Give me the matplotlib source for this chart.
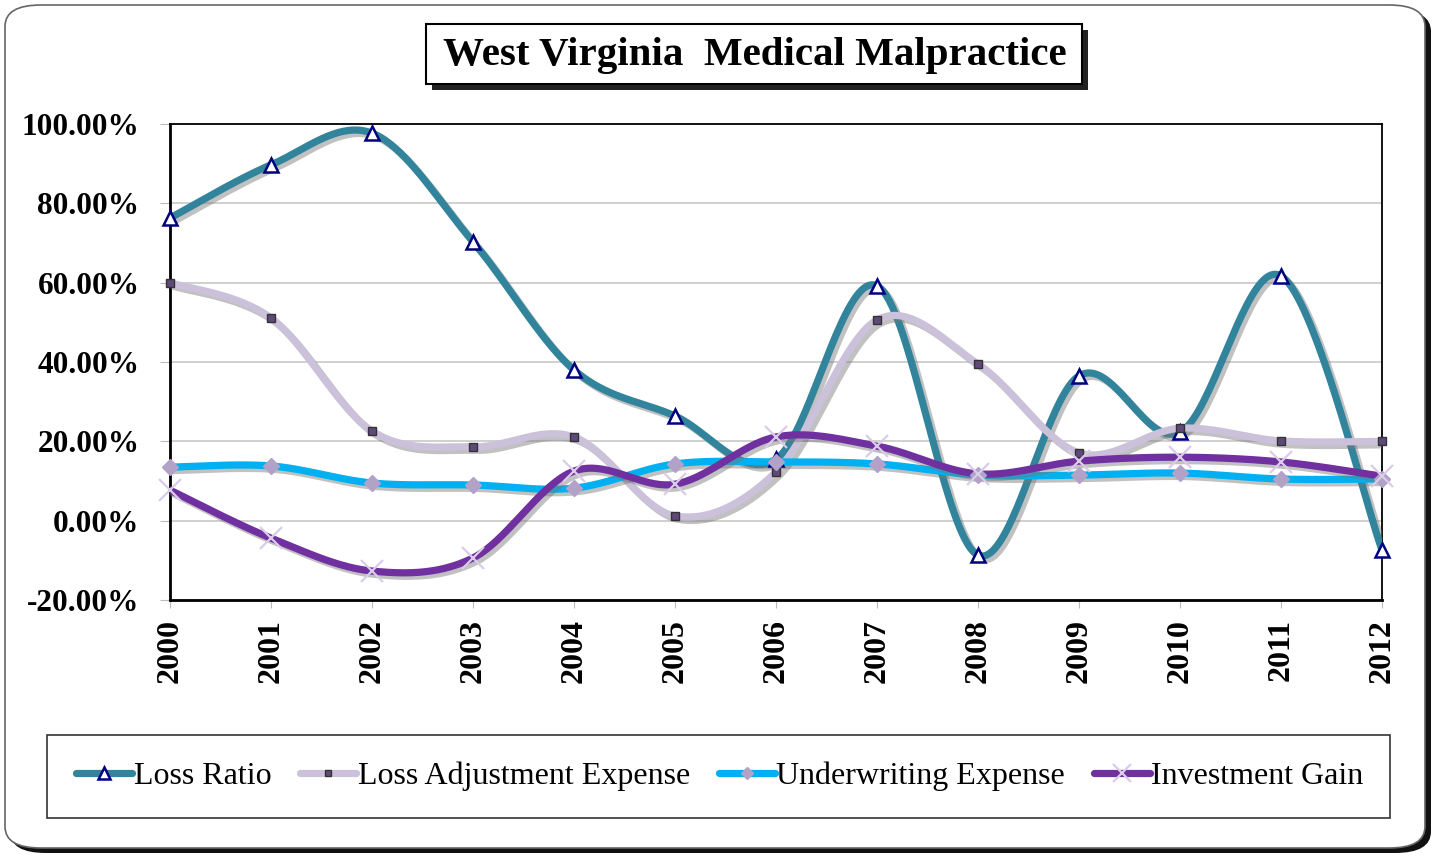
import numpy as np
import matplotlib
matplotlib.use("Agg")
import matplotlib.pyplot as plt
from matplotlib.patches import FancyBboxPatch, Rectangle
import matplotlib.patheffects as pe
from matplotlib.lines import Line2D
from matplotlib.ticker import FuncFormatter

years = [2000, 2001, 2002, 2003, 2004, 2005, 2006, 2007, 2008, 2009, 2010, 2011, 2012]
loss_ratio = [76.3, 89.7, 97.7, 70.3, 38.0, 26.4, 15.5, 59.2, -8.7, 36.5, 22.3, 61.7, -7.4]
loss_adj_exp = [60.0, 51.1, 22.6, 18.6, 21.1, 1.2, 12.3, 50.6, 39.5, 17.1, 23.3, 20.1, 20.0]
underwriting_exp = [13.5, 13.8, 9.5, 9.0, 8.2, 14.3, 14.8, 14.3, 11.5, 11.5, 12.0, 10.5, 10.5]
investment_gain = [7.7, -4.4, -12.7, -9.4, 12.5, 9.2, 21.1, 18.8, 11.8, 15.0, 16.0, 14.8, 11.2]
series_names = ["Loss Ratio", "Loss Adjustment Expense", "Underwriting Expense", "Investment Gain"]
y_ticks = [-20, 0, 20, 40, 60, 80, 100]

plt.rcParams['font.family'] = ['Liberation Serif', 'DejaVu Serif']

W, H = 1435, 856
fig = plt.figure(figsize=(W / 100, H / 100), dpi=100)
fig.patch.set_facecolor('white')

def fx(x): return x / W
def fy(y): return 1 - y / H

# outer rounded frame with shadow
shadow = FancyBboxPatch((fx(10), fy(853)), fx(1431) - fx(10), fy(10) - fy(853),
                        boxstyle="round,pad=0,rounding_size=0.025", transform=fig.transFigure,
                        facecolor='#111111', edgecolor='none', zorder=0)
fig.patches.append(shadow)
frame = FancyBboxPatch((fx(5), fy(848)), fx(1425) - fx(5), fy(5) - fy(848),
                       boxstyle="round,pad=0,rounding_size=0.025", transform=fig.transFigure,
                       facecolor='white', edgecolor='#666666', linewidth=1.2, zorder=1)
fig.patches.append(frame)

# axes
ax = fig.add_axes([fx(170), fy(600), fx(1382) - fx(170), fy(124) - fy(600)])
ax.set_zorder(3)
ax.set_facecolor('white')

def smooth(xs, ys, n=40):
    xs = np.asarray(xs, float); ys = np.asarray(ys, float)
    P = np.column_stack([xs, ys])
    out = []
    for i in range(len(P) - 1):
        p0 = P[i - 1] if i > 0 else P[i]
        p1 = P[i]; p2 = P[i + 1]
        p3 = P[i + 2] if i + 2 < len(P) else P[i + 1]
        c1 = p1 + (p2 - p0) / 6
        c2 = p2 - (p3 - p1) / 6
        t = np.linspace(0, 1, n)[:, None]
        seg = (1 - t) ** 3 * p1 + 3 * (1 - t) ** 2 * t * c1 + 3 * (1 - t) * t ** 2 * c2 + t ** 3 * p2
        out.append(seg if i == 0 else seg[1:])
    s = np.vstack(out)
    return s[:, 0], s[:, 1]

xs = np.arange(len(years))
styles = [
    dict(data=loss_ratio, color='#31849B', marker='^', mfc='white', mec='#000080', ms=10, mew=1.8),
    dict(data=loss_adj_exp, color='#CCC1DA', marker='s', mfc='#5F497A', mec='#333333', ms=6, mew=1.0),
    dict(data=underwriting_exp, color='#00B0F0', marker='D', mfc='#B3A2C7', mec='#B3A2C7', ms=8, mew=1.0),
    dict(data=investment_gain, color='#7030A0', marker='x', mfc='#CCC1DA', mec='#D9CCE8', ms=16, mew=1.6),
]
shadow_fx = [pe.SimpleLineShadow(offset=(2.5, -2.5), shadow_color='#777777', alpha=0.45), pe.Normal()]
draw_order = [2, 3, 1, 0]
for k in draw_order:
    st = styles[k]
    sx, sy = smooth(xs, st['data'])
    ax.plot(sx, sy, color=st['color'], lw=5.2, solid_capstyle='round', zorder=3 + k * 0.1,
            path_effects=shadow_fx)
for k in draw_order:
    st = styles[k]
    ax.plot(xs, st['data'], linestyle='none', marker=st['marker'], mfc=st['mfc'], mec=st['mec'],
            ms=st['ms'], mew=st['mew'], zorder=5 + k * 0.1, clip_on=False)

ax.set_xlim(0, len(years) - 1)
ax.set_ylim(-20, 100)
ax.set_yticks(y_ticks)
ax.yaxis.set_major_formatter(FuncFormatter(lambda v, p: f"{v:.2f}%"))
ax.set_xticks(xs)
ax.set_xticklabels([str(y) for y in years], rotation=90, fontweight='bold', fontsize=23)
for lab in ax.get_yticklabels():
    lab.set_fontweight('bold'); lab.set_fontsize(22.5)
ax.tick_params(axis='y', length=7, color='#BBBBBB', pad=15)
ax.tick_params(axis='x', length=6, color='#BBBBBB', pad=8)
ax.grid(axis='y', color='#C8C8C8', lw=1.2, zorder=0)
ax.set_axisbelow(True)
for s in ax.spines.values():
    s.set_color('black'); s.set_linewidth(1.3)
ax.spines['bottom'].set_linewidth(2)
ax.spines['left'].set_linewidth(2)

# title box with shadow
fig.patches.append(Rectangle((fx(432), fy(90)), fx(1088) - fx(432), fy(30) - fy(90),
                             transform=fig.transFigure, facecolor='#222222', edgecolor='none', zorder=2))
fig.patches.append(Rectangle((fx(426), fy(84)), fx(1082) - fx(426), fy(24) - fy(84),
                             transform=fig.transFigure, facecolor='white', edgecolor='black', lw=1.5, zorder=2))
fig.text(fx(755), fy(55), "West Virginia  Medical Malpractice", ha='center', va='center',
         fontsize=29.5, fontweight='bold', zorder=4)

# legend box
fig.patches.append(Rectangle((fx(47), fy(818)), fx(1390) - fx(47), fy(735) - fy(818),
                             transform=fig.transFigure, facecolor='white', edgecolor='#333333', lw=1.2, zorder=2))
handles = []
for st in styles:
    handles.append(Line2D([0], [0], color=st['color'], lw=5.2, marker=st['marker'], mfc=st['mfc'],
                          mec=st['mec'], ms=st['ms'] * 0.8, mew=st['mew'], solid_capstyle='round'))
leg = fig.legend(handles, series_names, loc='center', bbox_to_anchor=(fx(720), fy(776)), ncol=4,
                 frameon=False, fontsize=23, handlelength=1.75, handletextpad=0.05, columnspacing=0.9)
leg.set_zorder(5)

fig.savefig("out.png", dpi=100, facecolor='white')
